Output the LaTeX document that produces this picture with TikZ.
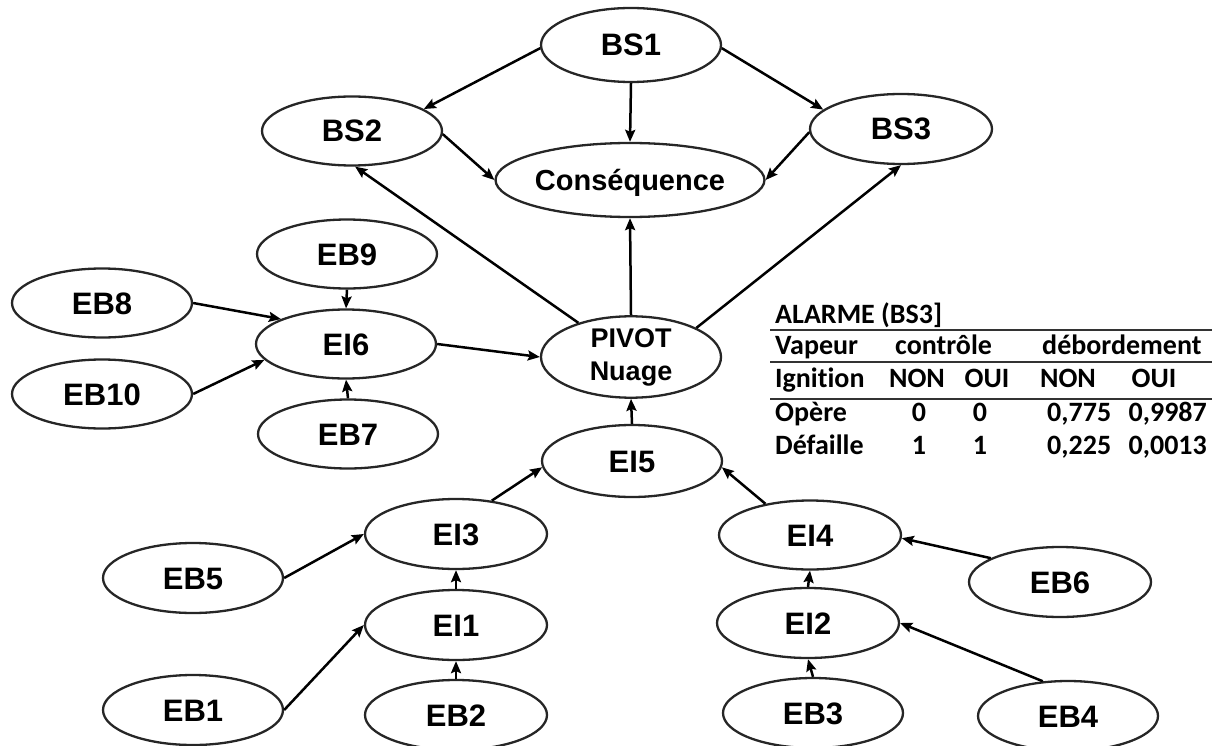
\documentclass[tikz,border=0pt]{standalone}
\usepackage{fontspec}
\setmainfont{Liberation Sans}
\newfontfamily\tabfont[Ligatures=NoCommon]{Carlito}
\usetikzlibrary{shapes.geometric,arrows.meta}
\begin{document}
\begin{tikzpicture}[x=1pt,y=-1pt,
  ellbase/.style={ellipse,draw=black!85,line width=2.3pt,fill=white,inner sep=0pt,
    minimum width=180pt,minimum height=69pt},
  ell/.style={ellbase,font=\fontsize{31}{34}\selectfont\bfseries,text height=22pt,text depth=0pt},
  arr/.style={line width=2.5pt,-{Stealth[length=12pt,width=10pt,inset=2pt]}},
  tab/.style={inner sep=0pt,font=\tabfont\fontsize{28}{30}\selectfont\bfseries},
  tabrule/.style={line width=2pt,draw=black!80}]
\useasboundingbox (0,0) rectangle (1217,746);

% top
\node[ell,minimum height=74pt] (BS1) at (631,45) {BS1};
\node[ell] (BS2) at (352,131) {BS2};
\node[ell,minimum width=242pt,minimum height=74pt,font=\fontsize{29}{32}\selectfont\bfseries,text height=21pt] (Cons) at (630,180) {Conséquence};
\node[ell,minimum width=182pt,minimum height=70pt] (BS3) at (901,129) {BS3};
\node[ellbase,align=center,font=\fontsize{27}{33}\selectfont\bfseries] (PIVOT) at (631,357) {PIVOT\\Nuage};
\node[ell,minimum height=72pt] (EI5) at (632,461) {EI5};

% left cluster
\node[ell] (EB9) at (347,254) {EB9};
\node[ell] (EB8) at (102,303) {EB8};
\node[ell] (EI6) at (346,344) {EI6};
\node[ell] (EB10) at (102,394) {EB10};
\node[ell] (EB7) at (348,434) {EB7};

% bottom left
\node[ell,minimum width=182pt,minimum height=70pt] (EI3) at (456,534) {EI3};
\node[ell,minimum height=70pt] (EB5) at (193,578) {EB5};
\node[ell,minimum width=182pt,minimum height=70pt] (EI1) at (456,625) {EI1};
\node[ell,minimum height=70pt] (EB1) at (193,710) {EB1};
\node[ell,minimum width=182pt,minimum height=70pt] (EB2) at (456,715) {EB2};

% bottom right
\node[ell,minimum width=182pt] (EI4) at (810,535) {EI4};
\node[ell,minimum width=182pt,minimum height=70pt] (EB6) at (1060,582) {EB6};
\node[ell,minimum width=182pt,minimum height=70pt] (EI2) at (808,623) {EI2};
\node[ell,minimum height=70pt] (EB3) at (813,713) {EB3};
\node[ell,minimum height=70pt] (EB4) at (1068,716) {EB4};

% connectors
\draw[arr] (BS1.182) -- (BS2.17);
\draw[arr] (BS1.south) -- (Cons.north);
\draw[arr] (BS1.-2) -- (BS3.166);
\draw[arr] (BS2.-2) -- (Cons.west);
\draw[arr] (BS3.182) -- (Cons.east);
\draw[arr] (PIVOT.147) -- (BS2.-85);
\draw[arr] (PIVOT.north) -- (Cons.south);
\draw[arr] (PIVOT.24) -- (BS3.-90);
\draw[arr] (EI6.east) -- (PIVOT.west);
\draw[arr] (EB9.south) -- (EI6.north);
\draw[arr] (EB8.east) -- (EI6.159);
\draw[arr] (EB10.east) -- (EI6.191);
\draw[arr] (EB7.north) -- (EI6.south);
\draw[arr] (EI5.north) -- (PIVOT.south);
\draw[arr] (EI3.43) -- (EI5.184);
\draw[arr] (EI4.145) -- (EI5.-4);
\draw[arr] (EB5.east) -- (EI3.west);
\draw[arr] (EI1.north) -- (EI3.south);
\draw[arr] (EB1.east) -- (EI1.west);
\draw[arr] (EB2.north) -- (EI1.south);
\draw[arr] (EB6.161) -- (EI4.-2);
\draw[arr] (EI2.north) -- (EI4.south);
\draw[arr] (EB3.north) -- (EI2.south);
\draw[arr] (EB4.126) -- (EI2.east);

% table
\node[tab,anchor=base west] (tt) at (775,323) {ALARME (BS3]};
\coordinate (r1a) at (770,330); \coordinate (r1b) at (1212,330);
\coordinate (r2a) at (770,362); \coordinate (r2b) at (1212,362);
\coordinate (r3a) at (770,399); \coordinate (r3b) at (1212,399);
\draw[tabrule] (r1a) -- (r1b);
\draw[tabrule] (r2a) -- (r2b);
\draw[tabrule] (r3a) -- (r3b);
\node[tab,anchor=base west] (h1) at (775,354) {Vapeur};
\node[tab,anchor=base west] (h2) at (895,354) {contrôle};
\node[tab,anchor=base west] (h3) at (1042,354) {débordement};
\node[tab,anchor=base west] (g0) at (775,387) {Ignition};
\node[tab,anchor=base] (g1) at (917,387) {NON};
\node[tab,anchor=base] (g2) at (987,387) {OUI};
\node[tab,anchor=base] (g3) at (1068,387) {NON};
\node[tab,anchor=base] (g4) at (1154,387) {OUI};
\node[tab,anchor=base west] (o0) at (775,421) {Opère};
\node[tab,anchor=base] (o1) at (919,421) {0};
\node[tab,anchor=base] (o2) at (980,421) {0};
\node[tab,anchor=base west] (o3) at (1047,421) {0,775};
\node[tab,anchor=base east] (o4) at (1207,421) {0,9987};
\node[tab,anchor=base west] (d0) at (775,454) {Défaille};
\node[tab,anchor=base] (d1) at (919,454) {1};
\node[tab,anchor=base] (d2) at (980,454) {1};
\node[tab,anchor=base west] (d3) at (1047,454) {0,225};
\node[tab,anchor=base east] (d4) at (1207,454) {0,0013};
\end{tikzpicture}
\end{document}
